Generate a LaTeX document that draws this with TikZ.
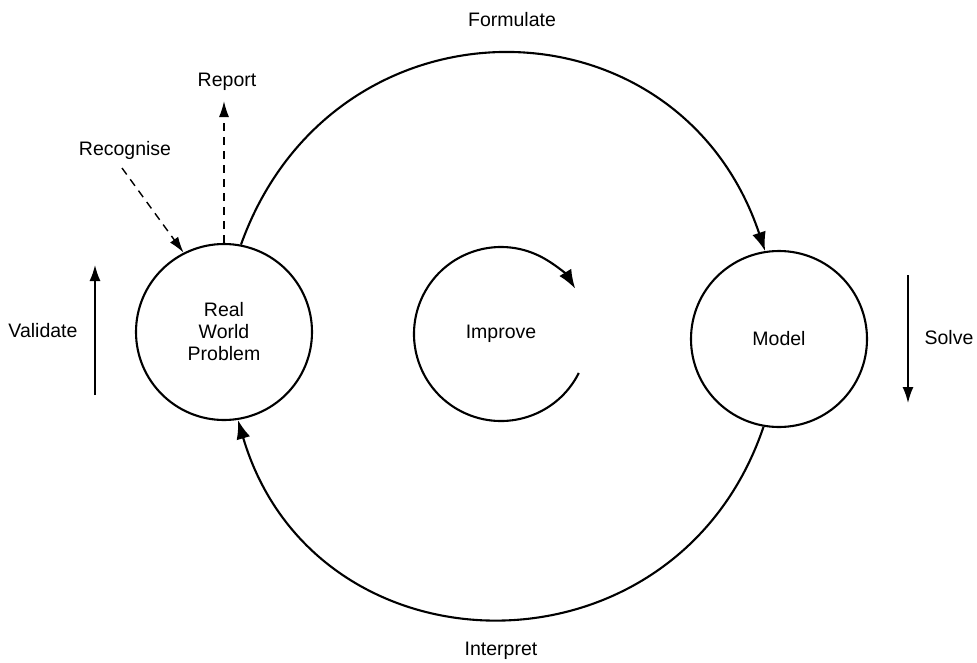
\documentclass[tikz,border=0pt]{standalone}
\usepackage{fontspec}
\setmainfont{Liberation Sans}
\usetikzlibrary{arrows.meta}
\newcommand\lblfont{\fontsize{19.5}{22}\selectfont}
\begin{document}
\begin{tikzpicture}[x=1pt,y=-1pt,
  blob/.style={circle,draw,line width=2.1pt,minimum size=176pt,inner sep=0pt,align=center,font=\lblfont},
  lbl/.style={font=\lblfont,inner sep=0pt},
  mainarrow/.style={line width=2.1pt,-{Latex[length=19pt,width=14pt]}},
  siderarrow/.style={line width=1.6pt,-{Latex[length=16pt,width=11pt]}},
  dasharrow/.style={line width=1.4pt,dash pattern=on 8pt off 6pt,-{Latex[length=16pt,width=10pt]}}
]
\useasboundingbox (0,0) rectangle (977,662);
\fill[white] (0,0) rectangle (977,662);

% circles
\node[blob] (rwp) at (224,332) {Real\\World\\Problem};
\node[blob] (mod) at (779,339) {Model};
\node[lbl] (imp) at (501,334) {Improve};

% labels
\node[lbl] (form) at (512,20) {Formulate};
\node[lbl] (interp) at (501,651) {Interpret};
\node[lbl] (val) at (43,331) {Validate};
\node[lbl] (solve) at (949,338) {Solve};
\node[lbl] (rep) at (227,82) {Report};
\node[lbl] (rec) at (125,150) {Recognise};

% big connectors
\draw[mainarrow] (rwp.79.5) .. controls (333,-12) and (678,-9) .. (mod.99);
\draw[mainarrow] (mod.-100) .. controls (676,686) and (315,681) .. (rwp.-81);

% improve loop
\draw[mainarrow] (imp.center) ++(26.6:87) arc[start angle=26.6, end angle=328.6, radius=87];

% validate / solve
\coordinate (valS) at (95,395);
\coordinate (valE) at (95,265);
\coordinate (solS) at (908,275);
\coordinate (solE) at (908,403);
\draw[siderarrow] (valS) -- (valE);
\draw[siderarrow] (solS) -- (solE);

% report / recognise
\coordinate (repE) at (224,101);
\coordinate (recS) at (122,168);
\draw[dasharrow] (rwp.north) -- (repE);
\draw[dasharrow] (recS) -- (rwp.117);
\end{tikzpicture}
\end{document}
